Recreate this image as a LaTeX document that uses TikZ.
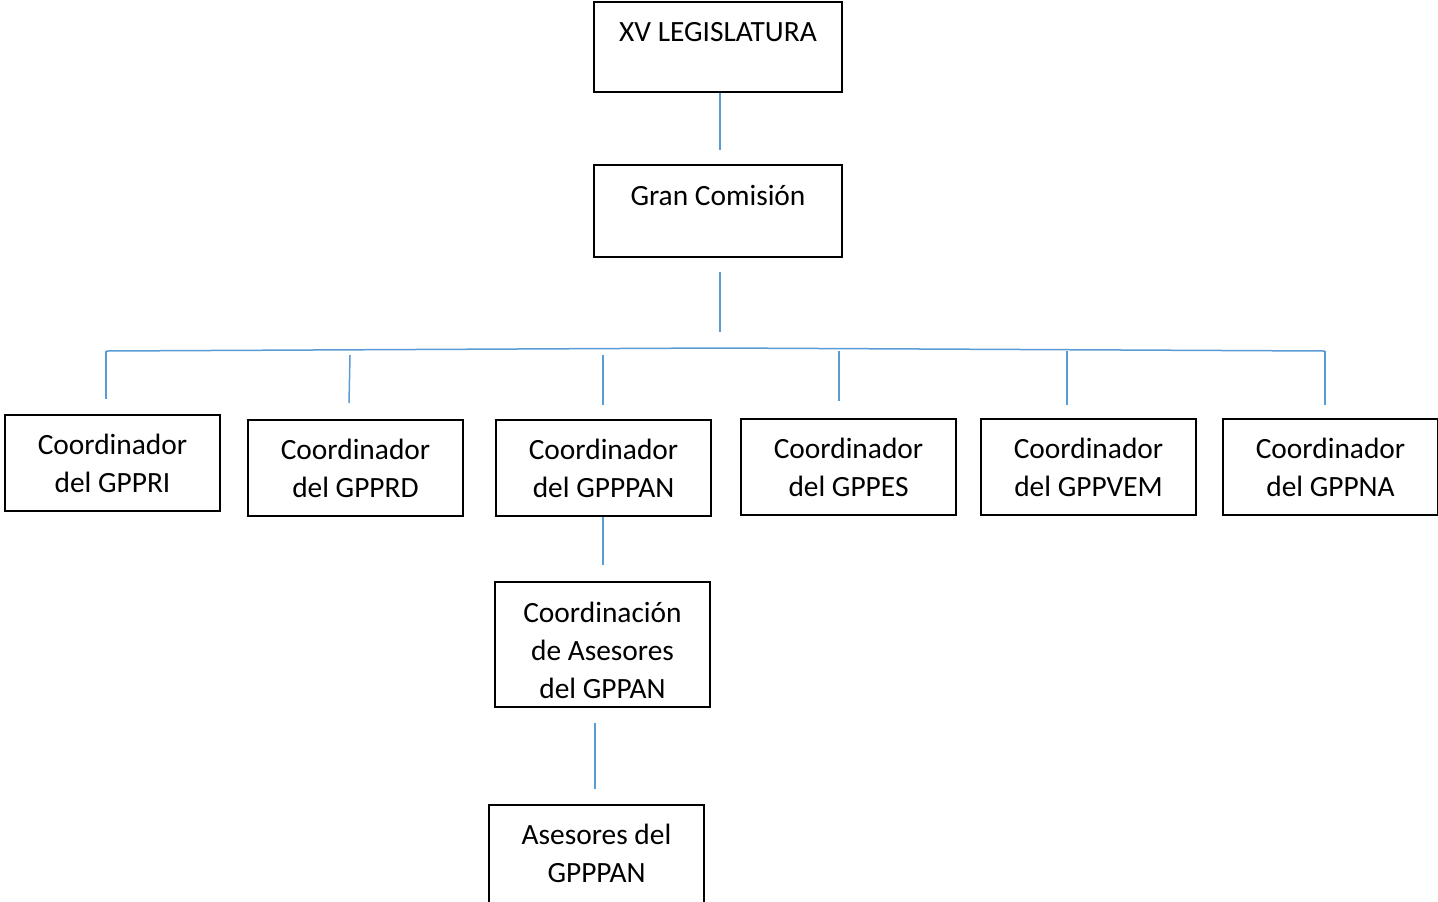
\documentclass[tikz,border=0pt]{standalone}
\usepackage{fontspec}
\setmainfont{Carlito}
\definecolor{linkblue}{HTML}{5B9BD5}
\begin{document}
\begin{tikzpicture}[x=0.5pt,y=-0.5pt,
  box/.style={draw=black,line width=1pt,rectangle,inner sep=0pt,anchor=north west},
  lbl/.style={align=center,inner sep=0pt,font=\fontsize{14.7}{19}\selectfont},
  link/.style={draw=linkblue,line width=0.75pt}]
\useasboundingbox (0,0) rectangle (1438,901);
% boxes
\node[box,minimum width=124pt,minimum height=45pt] (bxv) at (593,1) {};
\node[box,minimum width=124pt,minimum height=46pt] (bgc) at (593,164) {};
\node[box,minimum width=107.5pt,minimum height=48pt] (bpri) at (4,414) {};
\node[box,minimum width=107.5pt,minimum height=48pt] (bprd) at (247,419) {};
\node[box,minimum width=107.5pt,minimum height=48pt] (bpan) at (495,419) {};
\node[box,minimum width=107.5pt,minimum height=48pt] (bpes) at (740,418) {};
\node[box,minimum width=107.5pt,minimum height=48pt] (bvem) at (980,418) {};
\node[box,minimum width=107.5pt,minimum height=48pt] (bna) at (1222,418) {};
\node[box,minimum width=107.5pt,minimum height=62.5pt] (bca) at (494,581) {};
\node[box,minimum width=107.5pt,minimum height=52pt] (bas) at (488,804) {};
% texts
\node[lbl] (txv) at (718,32) {XV LEGISLATURA};
\node[lbl] (tgc) at (718,195) {Gran Comisión};
\node[lbl] (tpri) at (112.5,463) {Coordinador\\del GPPRI};
\node[lbl] (tprd) at (355.5,468) {Coordinador\\del GPPRD};
\node[lbl] (tpan) at (603.5,468) {Coordinador\\del GPPPAN};
\node[lbl] (tpes) at (848.5,467) {Coordinador\\del GPPES};
\node[lbl] (tvem) at (1088.5,467) {Coordinador\\del GPPVEM};
\node[lbl] (tna) at (1330.5,467) {Coordinador\\del GPPNA};
\node[lbl] (tca) at (602.5,650) {Coordinación\\de Asesores\\del GPPAN};
\node[lbl] (tas) at (596.5,853) {Asesores del\\GPPPAN};
% connector end points
\coordinate (c1a) at (720,93);   \coordinate (c1b) at (720,150);
\coordinate (c2a) at (720,272);  \coordinate (c2b) at (720,332);
\coordinate (hl) at (106,351);   \coordinate (hm) at (720,348);  \coordinate (hr) at (1325,351);
\coordinate (d1a) at (106,351);  \coordinate (d1b) at (106,399);
\coordinate (d2a) at (350,355);  \coordinate (d2b) at (349,403);
\coordinate (d3a) at (603,355);  \coordinate (d3b) at (603,405);
\coordinate (d4a) at (839,351);  \coordinate (d4b) at (839,401);
\coordinate (d5a) at (1067,351); \coordinate (d5b) at (1067,405);
\coordinate (d6a) at (1325,351); \coordinate (d6b) at (1325,405);
\coordinate (c3a) at (603,517);  \coordinate (c3b) at (603,565);
\coordinate (c4a) at (595,723);  \coordinate (c4b) at (595,789);
% connectors
\draw[link] (c1a) -- (c1b);
\draw[link] (c2a) -- (c2b);
\draw[link] (hl) -- (hm) -- (hr);
\draw[link] (d1a) -- (d1b);
\draw[link] (d2a) -- (d2b);
\draw[link] (d3a) -- (d3b);
\draw[link] (d4a) -- (d4b);
\draw[link] (d5a) -- (d5b);
\draw[link] (d6a) -- (d6b);
\draw[link] (c3a) -- (c3b);
\draw[link] (c4a) -- (c4b);
\end{tikzpicture}
\end{document}
